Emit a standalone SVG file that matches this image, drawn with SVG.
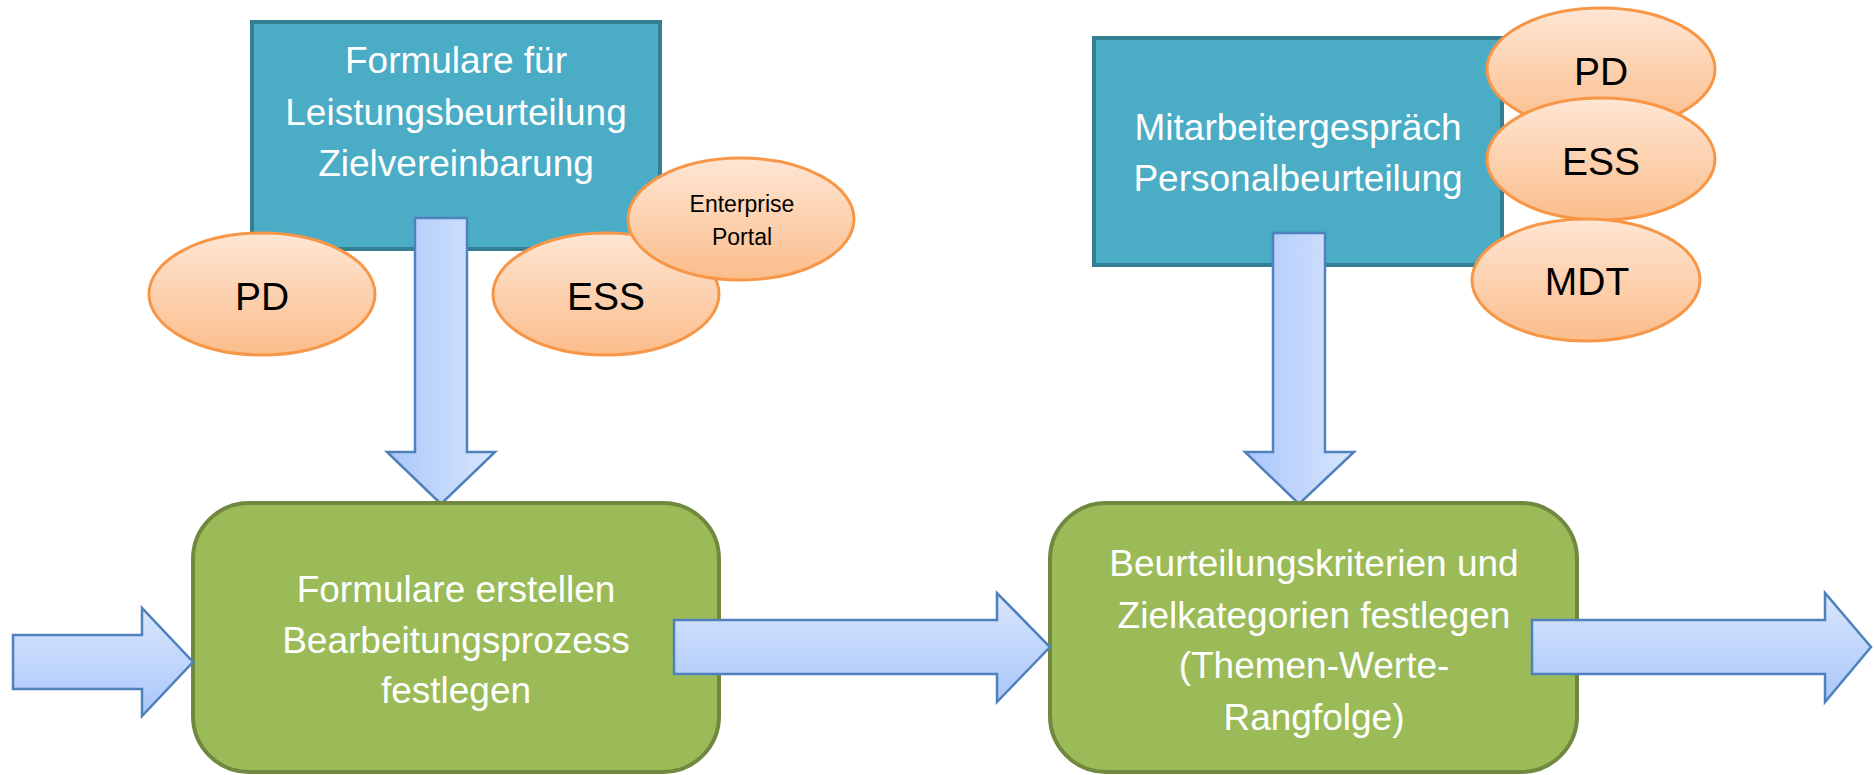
<svg xmlns="http://www.w3.org/2000/svg" width="1874" height="775" viewBox="0 0 1874 775">
<style>
.src{fill:#4bacc6;stroke:#357f93;stroke-width:4}
.proc{fill:#9bbb59;stroke:#71893f;stroke-width:4}
.ell{fill:url(#og);stroke:#f79646;stroke-width:3}
.harr{fill:url(#hg);stroke:#4f81bd;stroke-width:2.5;stroke-linejoin:miter}
.varr{fill:url(#vg);stroke:#4f81bd;stroke-width:2.5;stroke-linejoin:miter}
.wt{font-family:"Liberation Sans",Arial,sans-serif;font-size:37px;fill:#ffffff;text-anchor:middle}
.bt{font-family:"Liberation Sans",Arial,sans-serif;font-size:39px;fill:#000000;text-anchor:middle}
.st{font-family:"Liberation Sans",Arial,sans-serif;font-size:23px;fill:#000000;text-anchor:middle}
</style>
<defs>
<linearGradient id="og" x1="0" y1="0" x2="0" y2="1">
<stop offset="0" stop-color="#fee6d4"/>
<stop offset="1" stop-color="#fbbd8b"/>
</linearGradient>
<linearGradient id="hg" x1="0" y1="0" x2="0" y2="1">
<stop offset="0" stop-color="#d9e6fd"/>
<stop offset="1" stop-color="#a9c6fa"/>
</linearGradient>
<linearGradient id="vg" x1="0" y1="0" x2="1" y2="0">
<stop offset="0" stop-color="#a9c6fa"/>
<stop offset="1" stop-color="#d9e6fd"/>
</linearGradient>
</defs>
<rect width="1874" height="775" fill="#ffffff"/>

<g id="formulare-leistung">
<rect class="src" x="252" y="22" width="408" height="227"/>
<text class="wt" x="456" y="73">Formulare für</text>
<text class="wt" x="456" y="125">Leistungsbeurteilung</text>
<text class="wt" x="456" y="176">Zielvereinbarung</text>
</g>

<g id="mitarbeitergespraech">
<rect class="src" x="1094" y="38" width="408" height="227"/>
<text class="wt" x="1298" y="140">Mitarbeitergespräch</text>
<text class="wt" x="1298" y="191">Personalbeurteilung</text>
</g>

<g id="connectors">
<path class="varr" d="M415,218 H467 V452 H495 L441,504 L387,452 H415 Z"/>
<path class="varr" d="M1273,233 H1325 V452 H1354 L1299,504 L1245,452 H1273 Z"/>
</g>

<g id="pd-left">
<ellipse class="ell" cx="262" cy="294" rx="113" ry="61"/>
<text class="bt" x="262" y="310">PD</text>
</g>
<g id="ess-left">
<ellipse class="ell" cx="606" cy="294" rx="113" ry="61"/>
<text class="bt" x="606" y="310">ESS</text>
</g>
<g id="enterprise-portal">
<ellipse class="ell" cx="741" cy="219" rx="113" ry="61"/>
<text class="st" x="742" y="212">Enterprise</text>
<text class="st" x="742" y="245">Portal</text>
</g>

<g id="pd-right">
<ellipse class="ell" cx="1601" cy="69" rx="114" ry="61"/>
<text class="bt" x="1601" y="85">PD</text>
</g>
<g id="ess-right">
<ellipse class="ell" cx="1601" cy="159" rx="114" ry="61"/>
<text class="bt" x="1601" y="175">ESS</text>
</g>
<g id="mdt">
<ellipse class="ell" cx="1586" cy="280" rx="114" ry="61"/>
<text class="bt" x="1587" y="295">MDT</text>
</g>

<g id="formulare-erstellen">
<rect class="proc" x="193" y="503" width="526" height="269" rx="56" ry="56"/>
<text class="wt" x="456" y="602">Formulare erstellen</text>
<text class="wt" x="456" y="653">Bearbeitungsprozess</text>
<text class="wt" x="456" y="703">festlegen</text>
</g>

<g id="beurteilungskriterien">
<rect class="proc" x="1050" y="503" width="527" height="269" rx="56" ry="56"/>
<text class="wt" x="1314" y="576">Beurteilungskriterien und</text>
<text class="wt" x="1314" y="628">Zielkategorien festlegen</text>
<text class="wt" x="1314" y="678">(Themen-Werte-</text>
<text class="wt" x="1314" y="730">Rangfolge)</text>
</g>

<g id="flow-connectors">
<path class="harr" d="M13,635 H142 V608 L193,662 L142,716 V689 H13 Z"/>
<path class="harr" d="M674,620 H997 V593 L1050,647 L997,702 V674 H674 Z"/>
<path class="harr" d="M1532,620 H1825 V593 L1871,647 L1825,702 V674 H1532 Z"/>
</g>
</svg>
